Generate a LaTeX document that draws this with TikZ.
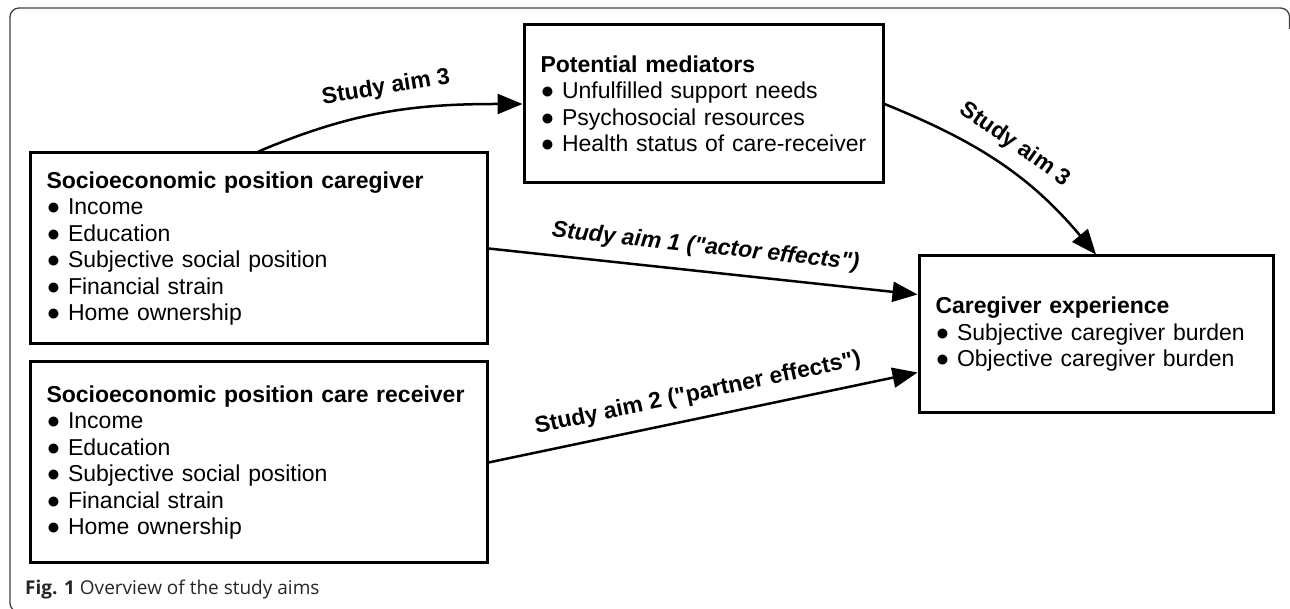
\documentclass[tikz,border=0pt]{standalone}
\usepackage{fontspec}
\setmainfont{Liberation Sans}
\newfontfamily\capfont{Open Sans}
\usetikzlibrary{arrows.meta}
\newcommand{\bul}{●\ }
% plain XeTeX fonts: no TeX quote mapping, so " stays straight
\font\aimfont="Liberation Sans/B" at 23pt
\font\aimfontit="Liberation Sans/BI" at 23pt

\begin{document}
\begin{tikzpicture}[x=1pt, y=1pt,
   box/.style={draw, line width=3pt, inner xsep=16.5pt, inner ysep=0pt, align=left,
      font=\fontsize{23}{26.5}\selectfont},
   aim/.style={line width=2.5pt, -{Triangle[length=25pt,width=20pt]}},
   lbl/.style={font=\aimfont, sloped, above=9pt}]

   \useasboundingbox (0,0) rectangle (1290,609);
   \draw[black!75, line width=1.3pt, rounded corners=9pt]
      (1289.5,580) -- (1289.5,601) -- (10,601) -- (10,-3) -- (30,-3);

   \node[box, text width=424pt, minimum height=191pt] (cg) at (258.5,360.5)
      {\textbf{Socioeconomic position caregiver}\\ \bul Income\\ \bul Education\\
       \bul Subjective social position\\ \bul Financial strain\\ \bul Home ownership};
   \node[box, text width=424pt, minimum height=201pt] (cr) at (258.5,146.5)
      {\textbf{Socioeconomic position care receiver}\\ \bul Income\\ \bul Education\\
       \bul Subjective social position\\ \bul Financial strain\\ \bul Home ownership};
   \node[box, text width=326pt, minimum height=158pt] (med) at (703.5,505)
      {\textbf{Potential mediators}\\ \bul Unfulfilled support needs\\
       \bul Psychosocial resources\\ \bul Health status of care-receiver};
   \node[box, text width=321pt, minimum height=157pt] (exp) at (1096,274.5)
      {\textbf{Caregiver experience}\\ \bul Subjective caregiver burden\\
       \bul Objective caregiver burden};

   \draw[aim] (cg.north) to[out=23, in=180] node[lbl, pos=0.51] {Study aim 3} (med.west);
   \draw[aim] (med.east) to[out=-22, in=130] node[lbl, pos=0.5] {Study aim 3} (exp.north);
   \draw[aim] (cg.east) -- node[lbl, font=\aimfontit] {Study aim 1 ("actor effects")} ([yshift=40pt]exp.west);
   \draw[aim] (cr.east) -- node[lbl] {Study aim 2 ("partner effects")} ([yshift=-38pt]exp.west);

   \node[anchor=west, inner sep=0pt, text=black!85, font=\capfont\fontsize{19}{21}\selectfont]
      (cap) at (25,19) {\textbf{Fig. 1} Overview of the study aims};
\end{tikzpicture}
\end{document}
